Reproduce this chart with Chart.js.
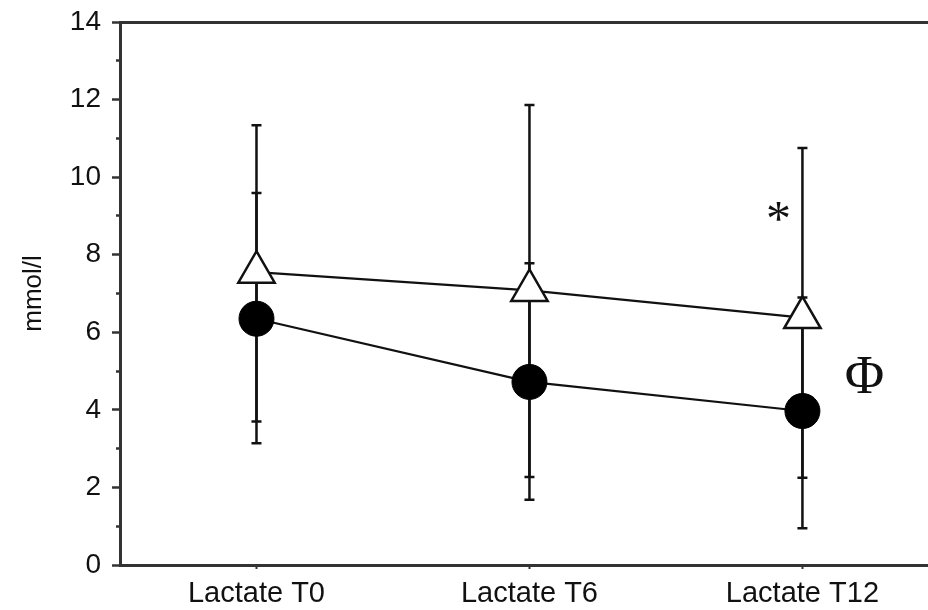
<!DOCTYPE html>
<html>
<head>
<meta charset="utf-8">
<script src="https://cdn.jsdelivr.net/npm/chart.js@4/dist/chart.umd.min.js"></script>
<style>
  html, body { margin: 0; padding: 0; background: #fff; overflow: hidden; }
  #wrap { width: 928px; height: 610px; }
</style>
</head>
<body>
<div id="wrap"><canvas id="chart" width="928" height="610"></canvas></div>
<script>
// categories and values
const categories = ["Lactate T0", "Lactate T6", "Lactate T12"]
const triMean = [7.55, 7.08, 6.38]
const triHigh = [11.34, 11.86, 10.75]
const triLow = [3.70, 2.27, 2.25]
const dotMean = [6.35, 4.72, 3.97]
const dotHigh = [9.59, 7.78, 6.90]
const dotLow = [3.14, 1.68, 0.95]
const yTickValues = [0, 1, 2, 3, 4, 5, 6, 7, 8, 9, 10, 11, 12, 13, 14]
const yTickLabels = ["0", "", "2", "", "4", "", "6", "", "8", "", "10", "", "12", "", "14"]
const notes = [
  { text: "*", index: 2, value: 8.85, dx: -24, size: 50 },
  { text: "\u03A6", index: 2, value: 4.8, dx: 62, size: 54 }
]

const ink = "#111"
const axisColor = "#333"
const sans = "'Liberation Sans', Arial, sans-serif"

// the original picture is cut off on the right, so the x range ends short of the last half step
const xMin = -0.5
const xMax = 2.46

const points = values => values.map((v, i) => ({ x: i, y: v }))

const errorBars = {
  id: "errorBars",
  beforeDatasetsDraw(chart) {
    const { ctx, scales: { x, y } } = chart
    ctx.save()
    ctx.strokeStyle = ink
    ctx.lineWidth = 2.5
    const draw = (lows, highs) => {
      lows.forEach((lo, i) => {
        const px = x.getPixelForValue(i)
        const y1 = y.getPixelForValue(lo)
        const y2 = y.getPixelForValue(highs[i])
        ctx.beginPath()
        ctx.moveTo(px, y1); ctx.lineTo(px, y2)
        ctx.moveTo(px - 5, y1); ctx.lineTo(px + 5, y1)
        ctx.moveTo(px - 5, y2); ctx.lineTo(px + 5, y2)
        ctx.stroke()
      })
    }
    draw(triLow, triHigh)
    draw(dotLow, dotHigh)
    ctx.restore()
  },
  afterDatasetsDraw(chart) {
    const { ctx, scales: { x, y } } = chart
    ctx.save()
    ctx.fillStyle = ink
    ctx.textAlign = "center"
    ctx.textBaseline = "middle"
    notes.forEach(n => {
      ctx.font = n.size + "px 'Liberation Serif', serif"
      ctx.fillText(n.text, x.getPixelForValue(n.index) + n.dx, y.getPixelForValue(n.value))
    })
    ctx.restore()
  }
}

new Chart(document.getElementById("chart"), {
  type: "line",
  data: {
    datasets: [
      {
        label: "triangles",
        data: points(triMean),
        borderColor: ink,
        borderWidth: 2.2,
        pointStyle: "triangle",
        pointRadius: 21,
        pointBackgroundColor: "#fff",
        pointBorderColor: ink,
        pointBorderWidth: 2.5,
        tension: 0,
        fill: false
      },
      {
        label: "circles",
        data: points(dotMean),
        borderColor: ink,
        borderWidth: 2.2,
        pointStyle: "circle",
        pointRadius: 17.5,
        pointBackgroundColor: "#000",
        pointBorderColor: "#000",
        pointBorderWidth: 1,
        tension: 0,
        fill: false
      }
    ]
  },
  options: {
    responsive: false,
    animation: false,
    layout: { autoPadding: false, padding: { top: 22, right: 0, left: 0, bottom: 0 } },
    plugins: { legend: { display: false }, tooltip: { enabled: false } },
    scales: {
      x: {
        type: "linear",
        min: xMin,
        max: xMax,
        afterBuildTicks(scale) { scale.ticks = categories.map((c, i) => ({ value: i })) },
        grid: { drawOnChartArea: false, tickLength: 4, tickColor: axisColor, tickWidth: 2 },
        border: { color: axisColor, width: 3 },
        ticks: {
          color: ink,
          padding: 8,
          maxRotation: 0,
          font: { family: sans, size: 29 },
          callback: v => categories[v]
        },
        afterFit(scale) {
          scale.height = 45
          scale.paddingLeft = 0
          scale.paddingRight = 0
        }
      },
      x2: {
        type: "linear",
        position: "top",
        min: xMin,
        max: xMax,
        grid: { display: false },
        ticks: { display: false },
        border: { color: axisColor, width: 3 },
        afterFit(scale) { scale.height = 0 }
      },
      y: {
        min: 0,
        max: 14,
        afterBuildTicks(scale) { scale.ticks = yTickValues.map(v => ({ value: v })) },
        grid: {
          drawOnChartArea: false,
          tickLength: 8,
          tickColor: axisColor,
          tickWidth: 2.5,
          tickBorderDash: ctx => (ctx.tick && ctx.tick.value % 2 === 1) ? [0, 4, 4, 100] : []
        },
        border: { color: axisColor, width: 3 },
        ticks: {
          color: ink,
          padding: 11,
          font: { family: sans, size: 28 },
          callback: v => yTickLabels[yTickValues.indexOf(v)]
        },
        title: {
          display: true,
          text: "mmol/l",
          color: ink,
          padding: { top: 18, bottom: 0 },
          font: { family: sans, size: 26 }
        },
        afterFit(scale) {
          scale.width = 120
          scale.paddingTop = 0
          scale.paddingBottom = 0
        }
      }
    }
  },
  plugins: [errorBars]
})
</script>
</body>
</html>
